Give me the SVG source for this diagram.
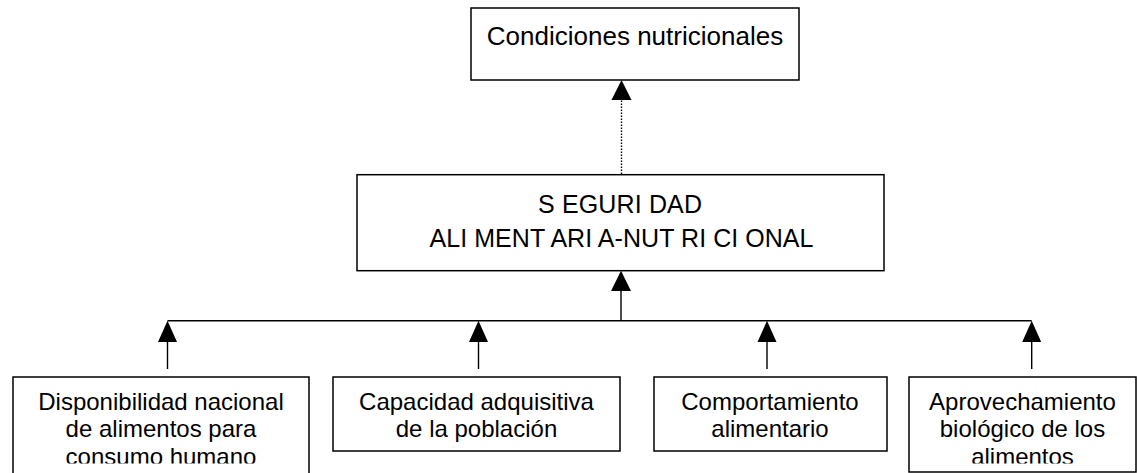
<svg xmlns="http://www.w3.org/2000/svg" width="1137" height="473" viewBox="0 0 1137 473">
<style>
.box{fill:#fff;stroke:#000;stroke-width:1.5}
.t{font-family:"Liberation Sans",Arial,sans-serif;font-size:24px;fill:#000;text-anchor:middle}
.tt{font-family:"Liberation Sans",Arial,sans-serif;font-size:26px;fill:#000;text-anchor:middle}
.m{font-family:"Liberation Sans",Arial,sans-serif;font-size:25px;fill:#000;text-anchor:middle}
.ln{fill:none;stroke:#000;stroke-width:1.4}
.dot{fill:none;stroke:#000;stroke-width:1.4;stroke-dasharray:1.5 1.5}
</style>
<defs>
<clipPath id="c1"><rect x="13" y="377" width="296" height="86.5"/></clipPath>
<clipPath id="c4"><rect x="909" y="377" width="228" height="86.5"/></clipPath>
</defs>
<g id="connectors">
<line class="dot" x1="621.5" y1="174" x2="621.5" y2="100"/>
<path d="M611.5,100 L621.5,80 L631.5,100 Z" fill="#000"/>
<line class="ln" x1="167.5" y1="320.7" x2="1031.7" y2="320.7"/>
<line class="ln" x1="621" y1="320.7" x2="621" y2="290"/>
<path d="M611,291 L621,270.7 L631,291 Z" fill="#000"/>
<line class="ln" x1="167.5" y1="369" x2="167.5" y2="340"/>
<path d="M158,342 L167.5,320.7 L177,342 Z" fill="#000"/>
<line class="ln" x1="478.5" y1="369" x2="478.5" y2="340"/>
<path d="M469,342 L478.5,320.7 L488,342 Z" fill="#000"/>
<line class="ln" x1="767" y1="369" x2="767" y2="340"/>
<path d="M757.5,342 L767,320.7 L776.5,342 Z" fill="#000"/>
<line class="ln" x1="1031.7" y1="369" x2="1031.7" y2="340"/>
<path d="M1022.2,342 L1031.7,320.7 L1041.2,342 Z" fill="#000"/>
</g>
<g id="n-condiciones">
<rect class="box" x="471" y="8" width="328" height="72"/>
<text class="tt" x="635" y="45">Condiciones nutricionales</text>
</g>
<g id="n-seguridad">
<rect class="box" x="357" y="174.7" width="527" height="96"/>
<text class="m" x="620" y="213" textLength="164" lengthAdjust="spacing">S EGURI DAD</text>
<text class="m" x="621.5" y="247" textLength="384" lengthAdjust="spacing">ALI MENT ARI A-NUT RI CI ONAL</text>
</g>
<g id="n-disponibilidad">
<rect class="box" x="13" y="377" width="296" height="100"/>
<g clip-path="url(#c1)">
<text class="t" x="161" y="410">Disponibilidad nacional</text>
<text class="t" x="161" y="437">de alimentos para</text>
<text class="t" x="161" y="465">consumo humano</text>
</g>
</g>
<g id="n-capacidad">
<rect class="box" x="333" y="377" width="287" height="74"/>
<text class="t" x="476.5" y="410">Capacidad adquisitiva</text>
<text class="t" x="476.5" y="437">de la población</text>
</g>
<g id="n-comportamiento">
<rect class="box" x="654" y="377" width="233" height="74"/>
<text class="t" x="770" y="410">Comportamiento</text>
<text class="t" x="770" y="437">alimentario</text>
</g>
<g id="n-aprovechamiento">
<rect class="box" x="909" y="377" width="227" height="95"/>
<g clip-path="url(#c4)">
<text class="t" x="1022.5" y="410">Aprovechamiento</text>
<text class="t" x="1022.5" y="437">biológico de los</text>
<text class="t" x="1022.5" y="465">alimentos</text>
</g>
</g>
</svg>
